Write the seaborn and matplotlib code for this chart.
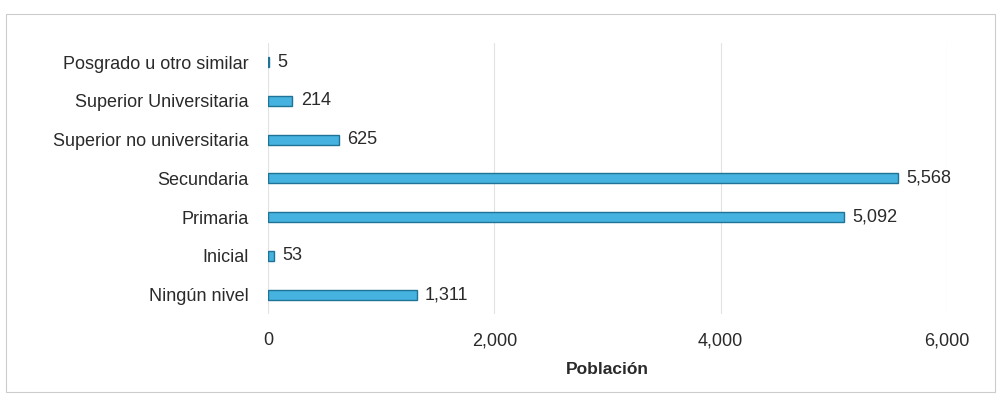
import matplotlib
matplotlib.use("Agg")
import matplotlib.pyplot as plt
import seaborn as sns
import pandas as pd
from matplotlib.patches import Rectangle

categorias = ["Posgrado u otro similar", "Superior Universitaria", "Superior no universitaria",
              "Secundaria", "Primaria", "Inicial", "Ningún nivel"]
poblacion = [5, 214, 625, 5568, 5092, 53, 1311]
ticks_x = [0, 2000, 4000, 6000]

sns.set_theme(style="white")
plt.rcParams['font.family'] = ['Liberation Sans', 'DejaVu Sans']

df = pd.DataFrame({"Nivel": categorias, "Población": poblacion})

fig = plt.figure(figsize=(10.01, 3.96), dpi=100)
ax = fig.add_axes([0.268, 0.207, 0.678, 0.685])

sns.barplot(data=df, y="Nivel", x="Población", orient="h", ax=ax,
            color="#45b2df", edgecolor="#1f7396", linewidth=1.0, width=0.26,
            saturation=1)

ax.set_xlim(0, 6000)
ax.set_xticks(ticks_x)
ax.set_xticklabels([f"{t:,}" for t in ticks_x], fontsize=13, color="#2a2a2a")
ax.tick_params(axis="y", labelsize=13, labelcolor="#2a2a2a", length=0, pad=14)
ax.tick_params(axis="x", length=0, pad=13)
ax.set_ylabel("")
ax.set_xlabel("Población", fontsize=12.5, fontweight="bold", color="#2a2a2a", labelpad=9)
ax.grid(axis="x", color="#e2e2e2", linewidth=0.8)
ax.set_axisbelow(True)
for s in ax.spines.values():
    s.set_visible(False)

for cont in ax.containers:
    ax.bar_label(cont, labels=[f"{v:,}" for v in poblacion], padding=6,
                 fontsize=13, color="#2a2a2a")

fig.patches.append(Rectangle((0.006, 0.01), 0.988, 0.955, transform=fig.transFigure,
                             fill=False, edgecolor="#cccccc", linewidth=0.8))

fig.savefig("out.png", dpi=100)
